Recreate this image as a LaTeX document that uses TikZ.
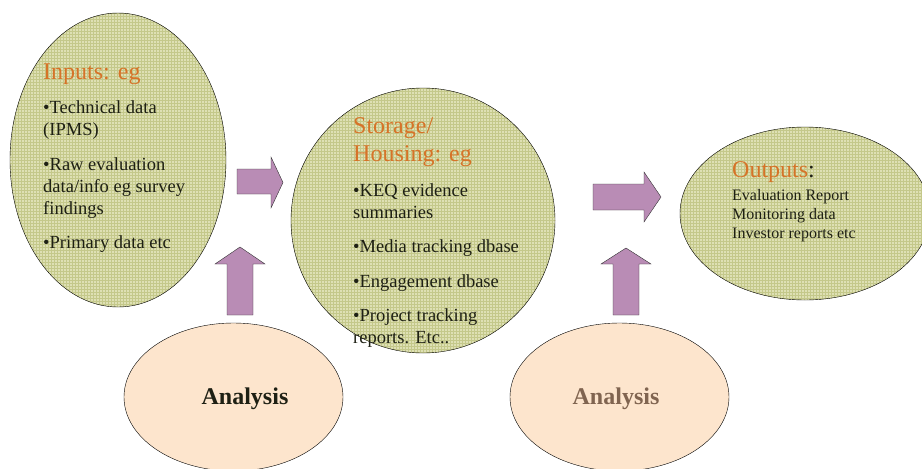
\documentclass[tikz,border=0pt]{standalone}
\usepackage{fontspec}
\setmainfont{Liberation Serif}
\usepackage{tikz}
\usetikzlibrary{patterns,shapes.geometric}
\definecolor{olivefill}{RGB}{222,224,180}
\definecolor{olivegrid}{RGB}{196,200,138}
\definecolor{peach}{RGB}{253,229,205}
\definecolor{mauve}{RGB}{185,140,181}
\definecolor{headorange}{RGB}{214,115,40}
\definecolor{darktext}{RGB}{30,32,20}
\definecolor{analysisbrown}{RGB}{128,100,80}
\tikzstyle{databox} = [draw=black, thin, ellipse, inner sep=0pt, preaction={fill=olivefill}, pattern=grid, pattern color=olivegrid]
\tikzstyle{workbox} = [draw=black, thin, ellipse, inner sep=0pt, fill=peach]
\tikzstyle{blockarrow} = [draw=black!80, thin, fill=mauve]
\tikzstyle{heading} = [inner sep=0pt, text=headorange, font=\fontsize{24}{28}\selectfont]
\tikzstyle{bodytext} = [inner sep=0pt, align=left, anchor=north west, text=darktext, font=\fontsize{18.5}{22}\selectfont]

\begin{document}
\begin{tikzpicture}[x=1pt, y=-1pt]
        \useasboundingbox (0,0) rectangle (922,469);

        % the three data stores
        \node [databox, minimum width=216pt, minimum height=294pt] (inputs) at (118,160) {};
        \node [databox, minimum width=264pt, minimum height=265pt] (storage) at (423,220.5) {};
        \node [databox, minimum width=250pt, minimum height=173pt] (outputs) at (805,213.5) {};

        % analysis steps
        \node [workbox, minimum width=219pt, minimum height=148pt] (analysisA) at (233.5,397) {};
        \node [workbox, minimum width=219pt, minimum height=148pt] (analysisB) at (619.5,397) {};

        % block arrows
        \draw [blockarrow] (237,169) -- (271,169) -- (271,157) -- (283,182.5) -- (271,208) -- (271,194) -- (237,194) -- cycle;
        \draw [blockarrow] (227,315) -- (227,264) -- (215,264) -- (240,247) -- (265,264) -- (253,264) -- (253,315) -- cycle;
        \draw [blockarrow] (593,184) -- (644,184) -- (644,172) -- (661,197) -- (644,222) -- (644,210) -- (593,210) -- cycle;
        \draw [blockarrow] (613,315) -- (613,264) -- (601,264) -- (626,248) -- (651,264) -- (639,264) -- (639,315) -- cycle;

        % texts
        \node [heading, anchor=base west] (inputsTitle) at (43,79) {Inputs: eg};
        \node [bodytext] (inputsText) at (43,100.5) {%
            \textbullet Technical data\\
            (IPMS)\\[12.5pt]
            \textbullet Raw evaluation\\
            data/info eg survey\\
            findings\\[12.5pt]
            \textbullet Primary data etc};

        \node [heading, anchor=base west] (storageTitle) at (353,133) {Storage/};
        \node [heading, anchor=base west] (storageTitleB) at (353,161) {Housing: eg};
        \node [bodytext] (storageText) at (353,183.4) {%
            \textbullet KEQ evidence\\
            summaries\\[12.5pt]
            \textbullet Media tracking dbase\\[12.5pt]
            \textbullet Engagement dbase\\[12.5pt]
            \textbullet Project tracking\\
            reports. Etc..};

        \node [heading, anchor=base west] (outputsTitle) at (732,177) {Outputs\textcolor{darktext}{:}};
        \node [bodytext, font=\fontsize{16}{19}\selectfont] (outputsText) at (732,189) {%
            Evaluation Report\\
            Monitoring data\\
            Investor reports etc};

        \node [inner sep=0pt, anchor=base, text=darktext, font=\fontsize{24}{28}\selectfont\bfseries] (analysisAText) at (245,404) {Analysis};
        \node [inner sep=0pt, anchor=base, text=analysisbrown, font=\fontsize{24}{28}\selectfont\bfseries] (analysisBText) at (616,404) {Analysis};
    \end{tikzpicture}
\end{document}
